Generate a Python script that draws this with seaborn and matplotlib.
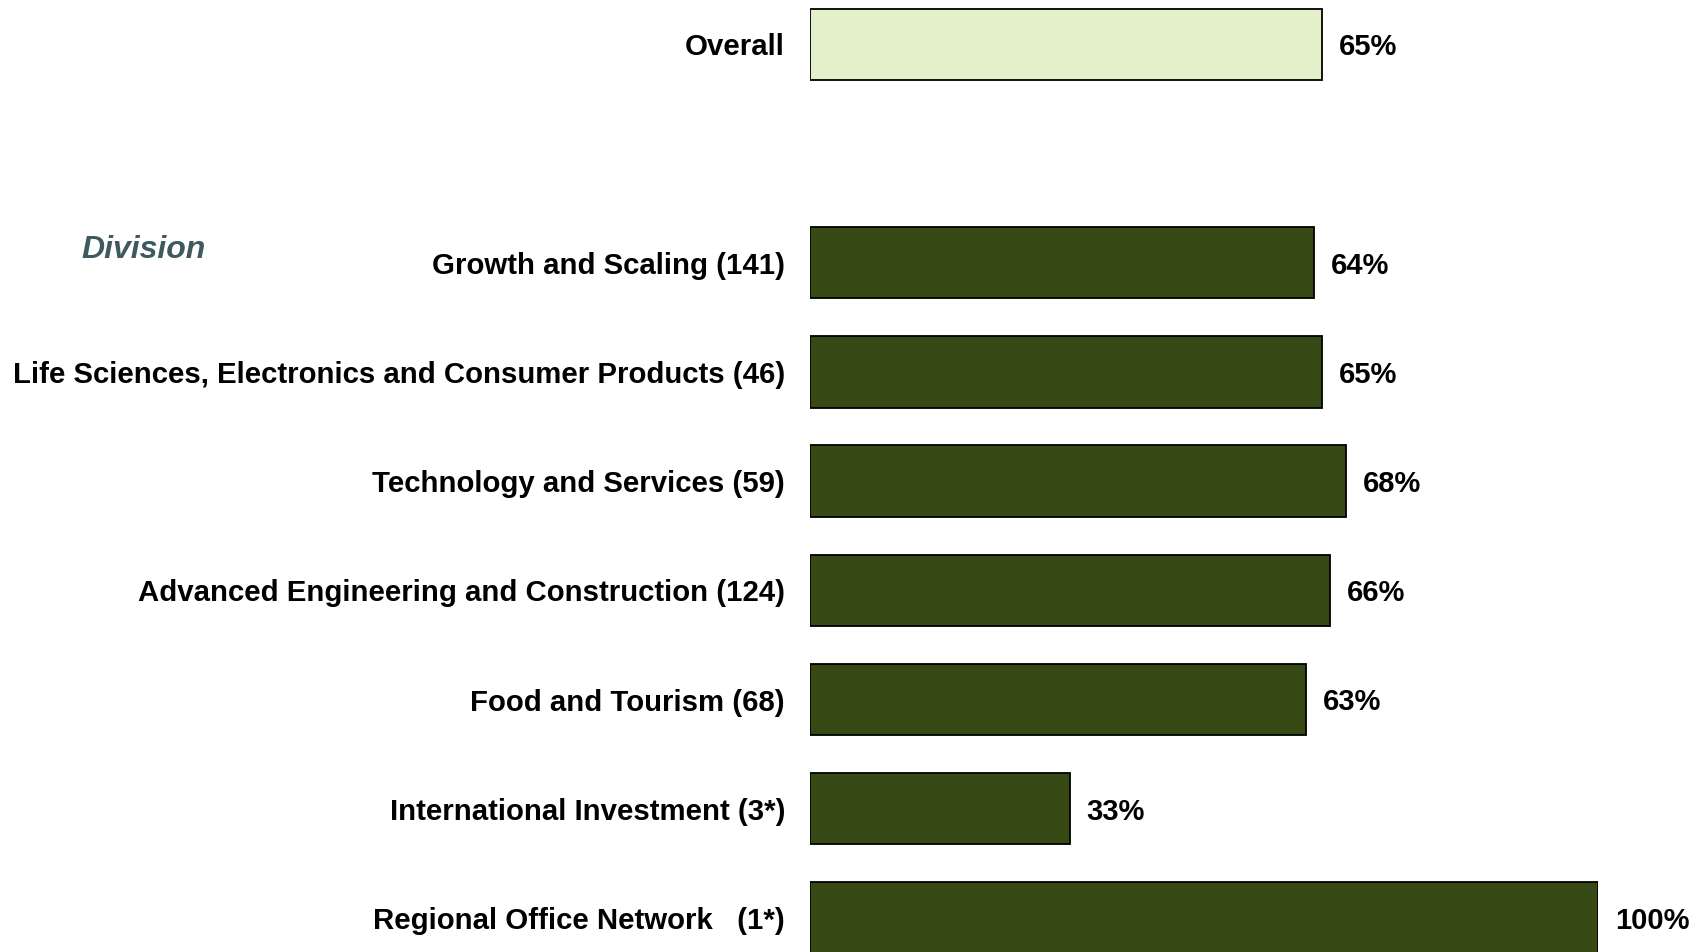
import matplotlib
matplotlib.use("Agg")
import matplotlib.pyplot as plt
import seaborn as sns
import pandas as pd

# Share of respondents, overall and per division (respondent counts in labels)
overall_label = "Overall"
overall_value = 65

divisions = [
    "Growth and Scaling (141)",
    "Life Sciences, Electronics and Consumer Products (46)",
    "Technology and Services (59)",
    "Advanced Engineering and Construction (124)",
    "Food and Tourism (68)",
    "International Investment (3*)",
    "Regional Office Network   (1*)",
]
division_values = [64, 65, 68, 66, 63, 33, 100]

section_title = "Division"

LIGHT = "#E4F0CA"
DARK = "#374914"

# Overall row on top, one empty row, then the divisions
positions = [0] + [2 + i for i in range(len(divisions))]
df = pd.DataFrame({
    "label": [overall_label] + divisions,
    "value": [overall_value] + division_values,
    "pos": positions,
    "group": ["overall"] + ["division"] * len(divisions),
})

sns.set_theme(style="white")
plt.rcParams["font.family"] = ["Liberation Sans", "DejaVu Sans"]

W, H = 1695, 952
fig = plt.figure(figsize=(W / 100, H / 100), dpi=100)
ax = fig.add_axes([810 / W, 0, 788 / W, 1])

sns.barplot(
    data=df, x="value", y="pos", hue="group", orient="h",
    native_scale=True, dodge=False, width=0.654, saturation=1,
    palette={"overall": LIGHT, "division": DARK},
    edgecolor="black", linewidth=1.3, legend=False, ax=ax,
)

ax.set_xlim(0, 100)
ax.set_ylim(8 + 34 / 109.2, -44.3 / 109.2)
ax.set_yticks(positions)
ax.set_yticklabels(df["label"], fontsize=21.2, fontweight="bold", color="black")
ax.tick_params(axis="y", length=0, pad=18)
ax.set_xticks([])
ax.set_xlabel("")
ax.set_ylabel("")
for s in ax.spines.values():
    s.set_visible(False)

for v, p in zip(df["value"], df["pos"]):
    ax.annotate(f"{v}%", xy=(v, p), xytext=(12, -2), textcoords="offset points",
                ha="left", va="center", fontsize=21, fontweight="bold",
                color="black", annotation_clip=False)

fig.text(81 / W, 1 - 249.5 / H, section_title, ha="left", va="center",
         fontsize=23, fontweight="bold", fontstyle="italic", color="#3F5A5F")

fig.savefig("out.png", dpi=100)
